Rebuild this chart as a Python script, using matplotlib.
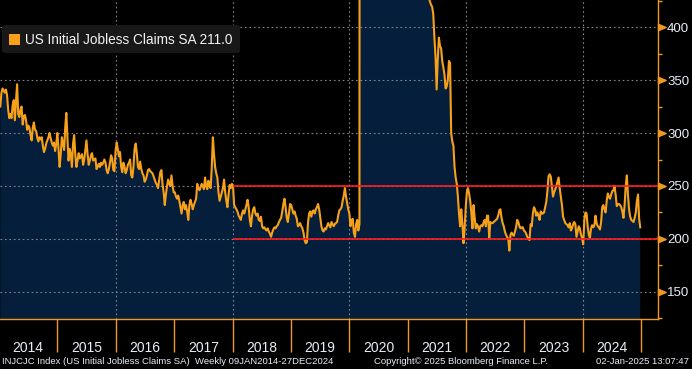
import matplotlib
matplotlib.use('Agg')
import matplotlib.pyplot as plt
from matplotlib.patches import FancyBboxPatch, Rectangle
from matplotlib.path import Path
import numpy as np
import pandas as pd

# weekly values, thousands, first release 09JAN2014
claims_2014 = [325, 338, 342, 340, 338, 341, 336, 322, 314, 318, 314, 326, 331, 312, 330, 346, 318,
               315, 322, 325, 308, 316, 317, 312, 303, 307, 305, 298, 293, 305, 310, 303, 302, 296,
               292, 296, 294, 296, 288, 282, 285, 290, 293, 296, 300, 295, 291, 288, 291, 283, 290]
claims_2015 = [300, 285, 268, 280, 296, 290, 284, 305, 319, 295, 274, 285, 280, 268, 290, 298, 280,
               268, 274, 281, 276, 278, 280, 270, 275, 284, 293, 280, 270, 274, 279, 281, 274, 275,
               276, 266, 268, 271, 268, 272, 270, 272, 275, 272, 265, 262, 266, 272, 279, 276, 265,
               264, 283]
claims_2016 = [291, 285, 278, 282, 268, 263, 272, 268, 262, 265, 270, 272, 275, 260, 258, 268, 285,
               290, 281, 268, 266, 273, 266, 262, 260, 254, 256, 260, 265, 266, 264, 263, 262, 259,
               256, 253, 251, 248, 256, 263, 265, 252, 244, 232, 242, 250, 256, 252, 250, 260, 250,
               244]
claims_2017 = [244, 240, 238, 241, 236, 230, 224, 232, 235, 228, 232, 226, 218, 232, 237, 233, 228,
               232, 235, 238, 252, 248, 246, 249, 252, 250, 247, 258, 250, 247, 255, 250, 248, 268,
               296, 280, 268, 262, 258, 244, 236, 240, 244, 248, 256, 244, 236, 230, 242, 251, 248,
               252]
claims_2018 = [250, 232, 230, 228, 226, 222, 220, 218, 224, 227, 224, 228, 232, 237, 230, 218, 212,
               222, 228, 230, 224, 222, 224, 218, 217, 221, 212, 210, 211, 209, 208, 210, 207, 205,
               202, 206, 209, 211, 210, 212, 213, 216, 218, 220, 226, 233, 238, 230, 220, 216, 224,
               233]
claims_2019 = [232, 228, 224, 226, 222, 219, 212, 213, 215, 212, 210, 206, 199, 196, 197, 215, 224,
               226, 221, 226, 227, 224, 228, 230, 233, 228, 220, 212, 208, 207, 210, 209, 212, 215,
               213, 211, 216, 214, 212, 214, 215, 216, 222, 227, 228, 230, 236, 241, 248, 240, 234,
               228]
claims_2020 = [224, 212, 218, 219, 206, 202, 214, 218, 208, 214, 2914, 6015, 6211, 4971, 4281, 3841,
               3171, 2687, 2446, 2120, 1897, 1540, 1482, 1447, 1413, 1310, 1423, 1372, 1190, 1107,
               1120, 1041, 1044, 881, 860, 866, 849, 837, 814, 896, 790, 767, 753, 741, 766, 790,
               716, 853, 885, 806, 790, 787, 841]
claims_2021 = [926, 886, 914, 812, 836, 848, 793, 745, 770, 658, 719, 592, 576, 553, 505, 478, 444,
               436, 428, 424, 421, 419, 412, 390, 372, 341, 370, 390, 382, 380, 368, 362, 355, 342,
               344, 350, 368, 366, 300, 292, 288, 268, 258, 252, 240, 224, 212, 228, 215, 196, 210,
               230]
claims_2022 = [244, 248, 243, 236, 225, 210, 232, 220, 210, 214, 212, 207, 212, 213, 212, 216, 218,
               212, 222, 222, 201, 216, 215, 215, 216, 217, 218, 219, 222, 227, 228, 220, 215, 212,
               207, 204, 202, 200, 189, 204, 206, 204, 203, 207, 211, 218, 216, 212, 210, 211, 211,
               208]
claims_2023 = [207, 205, 202, 200, 199, 214, 212, 224, 230, 228, 222, 225, 222, 218, 226, 224, 224,
               225, 230, 235, 245, 259, 261, 259, 250, 240, 244, 247, 250, 254, 258, 248, 240, 232,
               221, 218, 215, 214, 213, 211, 215, 208, 210, 214, 216, 214, 202, 207, 212, 210, 204,
               201]
claims_2024 = [195, 218, 225, 224, 212, 204, 201, 210, 213, 211, 213, 222, 215, 212, 211, 209, 216,
               230, 232, 228, 225, 236, 243, 240, 238, 242, 245, 246, 250, 242, 231, 233, 233, 232,
               230, 226, 220, 232, 250, 260, 242, 228, 221, 218, 217, 216, 220, 225, 236, 242, 219,
               211]

claims = (claims_2014 + claims_2015 + claims_2016 + claims_2017 + claims_2018 + claims_2019
          + claims_2020 + claims_2021 + claims_2022 + claims_2023 + claims_2024)
dates = pd.date_range('2014-01-09', periods=len(claims), freq='7D')

last_value = 211.0
y_ticks = [150, 200, 250, 300, 350, 400]
y_minor = [125, 175, 225, 275, 325, 375, 425]
year_labels = [str(y) for y in range(2014, 2025)]
ref_levels = [250, 200]
ref_start = pd.Timestamp('2018-01-01')

ORANGE = '#f7a11a'
SPINE = '#ee9a22'
NAVY = '#051e3b'
TXT = '#e8eef5'
RED = '#ff1f1f'
FONT = ['Liberation Sans Narrow', 'Liberation Sans', 'DejaVu Sans']
plt.rcParams['font.family'] = FONT

W, H = 692, 369
fig = plt.figure(figsize=(W / 100, H / 100), dpi=100, facecolor='black')
ax = fig.add_axes([0, 50 / H, 658 / W, 319 / H])
ax.set_facecolor('black')

x_left, x_right = pd.Timestamp('2014-01-07'), pd.Timestamp('2025-04-16')
ax.set_xlim(x_left, x_right)
ax.set_ylim(124.5, 425.5)

ax.fill_between(dates, claims, 0, color=NAVY, lw=0, zorder=1)
ax.plot(dates, claims, color=ORANGE, lw=1.5, zorder=3)
ax.hlines(ref_levels, ref_start, x_right, colors=RED, lw=1.2, zorder=4)

# grid
ax.set_yticks(y_ticks)
ax.set_yticks(y_minor, minor=True)
ax.grid(axis='y', which='major', color='#80868e', ls=(0, (1.5, 2.5)), lw=0.8)
for y in range(2016, 2025, 2):
    ax.axvline(pd.Timestamp(f'{y}-01-01'), color='#80868e', ls=(0, (1.5, 2.5)), lw=0.8, zorder=1.5)

# x axis: separators at year starts, labels mid-year
ax.set_xticks(pd.date_range('2015-01-01', '2025-01-01', freq='YS'))
ax.set_xticklabels([])
ax.set_xticks([pd.Timestamp(f'{y}-07-02') for y in range(2014, 2025)], minor=True)
ax.set_xticklabels(year_labels, minor=True)
ax.tick_params(axis='x', which='major', length=24, width=1, color=SPINE, direction='out')
ax.tick_params(axis='x', which='minor', length=0, pad=16, labelsize=10, labelcolor=TXT)

# y axis on the right
ax.yaxis.tick_right()
ax.tick_params(axis='y', which='major', length=0, pad=6.5, labelsize=9.5, labelcolor=TXT)
ax.tick_params(axis='y', which='minor', length=3, width=1, color=SPINE, direction='out')
tri = Path([(0, -0.42), (1.0, 0), (0, 0.42), (0, -0.42)],
           [Path.MOVETO, Path.LINETO, Path.LINETO, Path.CLOSEPOLY])
ax.plot(np.ones(len(y_ticks)), y_ticks, transform=ax.get_yaxis_transform(), marker=tri, ms=11,
        color=SPINE, ls='none', clip_on=False, zorder=5)

for s in ['top', 'left']:
    ax.spines[s].set_visible(False)
for s in ['right', 'bottom']:
    ax.spines[s].set_color(SPINE)
    ax.spines[s].set_linewidth(1)

# legend box
fig.patches.append(FancyBboxPatch((2 / W, 1 - 53 / H), 238 / W, 28 / H,
                                  boxstyle='round,pad=0,rounding_size=0.005',
                                  transform=fig.transFigure, fc='#181818', ec='none'))
fig.patches.append(Rectangle((9 / W, 1 - 45 / H), 11 / W, 11 / H, transform=fig.transFigure,
                             fc=ORANGE, ec='none'))
fig.text(25 / W, 1 - 39.5 / H, f'US Initial Jobless Claims SA {last_value:.1f}', ha='left',
         va='center', fontsize=9.8, color='#f2f2f2')

# footer
fy = 1 - 361 / H
fig.text(2 / W, fy, 'INJCJC Index (US Initial Jobless Claims SA)  Weekly 09JAN2014-27DEC2024',
         ha='left', va='center', fontsize=6.8, color=TXT)
fig.text(461 / W, fy, 'Copyright© 2025 Bloomberg Finance L.P.', ha='center', va='center',
         fontsize=6.8, color=TXT)
fig.text(689 / W, fy, '02-Jan-2025 13:07:47', ha='right', va='center', fontsize=6.8, color=TXT)

fig.savefig('out.png', dpi=100, facecolor='black')
